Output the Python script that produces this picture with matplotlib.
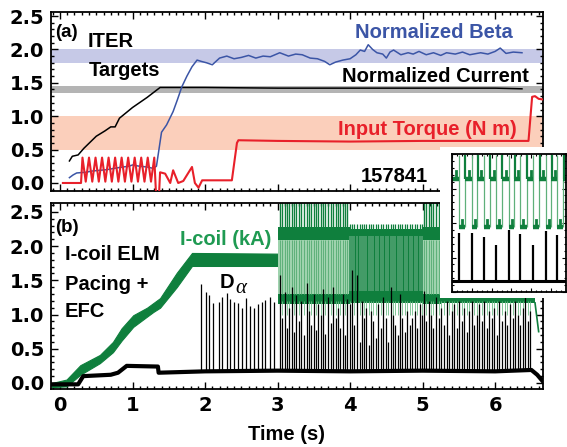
import numpy as np
import matplotlib
matplotlib.use('Agg')
import matplotlib.pyplot as plt
from matplotlib.patches import Rectangle
from matplotlib.ticker import MultipleLocator, FormatStrFormatter, NullFormatter

# ------------------------- data -------------------------
beta_t = [0.13, 0.18, 0.23, 0.35, 0.45, 0.55, 0.65, 0.75, 0.87, 0.95, 1.00, 1.10, 1.20, 1.28,
          1.33, 1.40, 1.47, 1.56, 1.62, 1.68, 1.75, 1.82, 1.89, 1.95, 2.02, 2.10, 2.20, 2.30,
          2.40, 2.50, 2.60, 2.70, 2.80, 2.90, 3.03, 3.15, 3.25, 3.34, 3.45, 3.55, 3.65, 3.72,
          3.80, 3.90, 4.00, 4.08, 4.14, 4.20, 4.25, 4.31, 4.37, 4.45, 4.50, 4.55, 4.60, 4.70,
          4.80, 4.87, 4.95, 5.05, 5.15, 5.25, 5.33, 5.45, 5.55, 5.65, 5.80, 5.90, 6.00, 6.07,
          6.15, 6.25, 6.37]
beta_v = [0.08, 0.12, 0.15, 0.16, 0.18, 0.19, 0.20, 0.22, 0.24, 0.25, 0.27, 0.25, 0.24, 0.22,
          0.25, 0.76, 0.87, 1.07, 1.25, 1.44, 1.60, 1.74, 1.84, 1.82, 1.80, 1.77, 1.87, 1.90,
          1.86, 1.88, 1.91, 1.87, 1.90, 1.89, 1.95, 1.90, 1.93, 1.92, 1.87, 1.86, 1.82, 1.77,
          1.81, 1.84, 1.86, 1.92, 1.99, 1.97, 2.07, 2.00, 1.95, 1.93, 1.87, 1.96, 1.99, 1.92,
          1.95, 1.93, 1.97, 1.92, 1.95, 1.91, 1.95, 1.93, 1.96, 1.92, 1.95, 1.93, 1.97, 2.02,
          1.94, 1.96, 1.95]

cur_t = [0.13, 0.17, 0.25, 0.33, 0.50, 0.62, 0.70, 0.76, 0.82, 1.00, 1.20, 1.38, 2.0, 3.0,
         4.0, 5.0, 6.0, 6.37]
cur_v = [0.33, 0.40, 0.42, 0.52, 0.70, 0.78, 0.84, 0.84, 0.97, 1.13, 1.28, 1.43, 1.43, 1.42,
         1.42, 1.42, 1.42, 1.41]

torque_t = [0.04, 0.29, 0.31, 0.355, 0.40, 0.445, 0.49, 0.535, 0.58, 0.625, 0.67, 0.715, 0.76,
            0.805, 0.85, 0.895, 0.94, 0.985, 1.03, 1.075, 1.12, 1.165, 1.21, 1.255, 1.30,
            1.33, 1.36, 1.38, 1.45, 1.52, 1.56, 1.63, 1.70, 1.82, 1.86, 1.91, 1.96, 2.37,
            2.44, 2.46, 3.0, 4.0, 5.0, 6.0, 6.46, 6.51, 6.55, 6.60, 6.66]
torque_v = [0.0, 0.0, 0.38, 0.02, 0.38, 0.02, 0.38, 0.02, 0.38, 0.02, 0.38, 0.02, 0.38,
            0.02, 0.38, 0.02, 0.38, 0.02, 0.38, 0.02, 0.38, 0.02, 0.38, 0.02, 0.38,
            -0.30, -0.30, 0.16, 0.14, 0.0, 0.19, 0.0, 0.03, 0.24, 0.0, -0.07, 0.04, 0.04,
            0.60, 0.64, 0.63, 0.62, 0.63, 0.63, 0.63, 1.29, 1.30, 1.26, 1.25]

bands = [(1.8, 2.0), (1.35, 1.45), (0.5, 1.0)]

icoil_t = [-0.11, 0.09, 0.28, 0.55, 0.73, 0.85, 1.01, 1.20, 1.29, 1.38, 1.61, 1.82, 3.00]
icoil_lo = [-0.06, -0.05, 0.12, 0.29, 0.45, 0.62, 0.82, 0.97, 1.04, 1.10, 1.40, 1.71, 1.71]
icoil_hi = [0.0, 0.05, 0.26, 0.41, 0.60, 0.80, 0.99, 1.10, 1.17, 1.24, 1.61, 1.90, 1.89]

da_t = [-0.12, 0.25, 0.32, 0.70, 0.80, 0.92, 1.35, 1.36, 2.0, 3.0, 4.0, 5.0, 6.0, 6.50,
        6.58, 6.66]
da_v = [-0.02, -0.02, 0.10, 0.12, 0.15, 0.25, 0.24, 0.15, 0.17, 0.18, 0.17, 0.18, 0.17, 0.19,
        0.12, 0.02]

elm_t = [1.95, 2.01, 2.06, 2.11, 2.19, 2.24, 2.30, 2.35, 2.40, 2.46, 2.51, 2.56, 2.62, 2.67,
         2.73, 2.78, 2.83, 2.89, 2.95,
         3.03, 3.06, 3.10, 3.13, 3.16, 3.20, 3.23, 3.26, 3.30, 3.33, 3.36, 3.40, 3.43, 3.46,
         3.50, 3.53, 3.56, 3.60, 3.63, 3.66, 3.70, 3.73, 3.76, 3.80, 3.83, 3.86, 3.90, 3.93,
         3.96, 4.00,
         4.03, 4.06, 4.09, 4.13, 4.16, 4.19, 4.22, 4.26, 4.29, 4.32, 4.36, 4.39, 4.42, 4.46,
         4.49, 4.52, 4.56, 4.59, 4.62, 4.66, 4.69, 4.72, 4.76, 4.79, 4.82, 4.86, 4.89, 4.92,
         4.96, 4.99,
         5.02, 5.05, 5.09, 5.12, 5.15, 5.19, 5.22, 5.26, 5.29, 5.33, 5.36, 5.40, 5.43, 5.47,
         5.50, 5.54, 5.57, 5.61, 5.64, 5.68, 5.71, 5.75, 5.78, 5.82, 5.85, 5.89, 5.92, 5.96,
         5.99, 6.03, 6.06, 6.10, 6.13, 6.17, 6.20, 6.24, 6.27, 6.31, 6.34, 6.38, 6.41, 6.45,
         6.48]
elm_h = [1.45, 1.33, 1.28, 1.17, 1.19, 1.25, 1.31, 1.22, 1.19, 1.17, 1.10, 1.24, 1.13, 1.10,
         1.16, 1.18, 1.21, 1.25, 1.18,
         1.58, 0.95, 1.33, 0.80, 1.10, 1.40, 0.75, 1.28, 0.90, 1.20, 0.70, 1.46, 1.05, 0.85,
         1.30, 0.78, 1.15, 1.00, 1.38, 0.72, 1.25, 0.88, 1.40, 0.95, 1.10, 0.80, 1.30, 0.70,
         1.22, 1.15,
         1.65, 0.85, 1.58, 0.60, 1.20, 0.95, 1.10, 0.55, 1.05, 0.90, 0.65, 1.15, 0.80, 1.25,
         0.95, 0.60, 1.40, 1.00, 0.85, 0.70, 1.30, 0.95, 0.75, 1.05, 0.85, 0.95, 1.05, 0.80,
         1.15, 1.00,
         1.35, 0.90, 1.20, 1.00, 0.80, 1.25, 0.95, 1.10, 0.85, 1.20, 0.70, 1.05, 1.15, 0.80,
         1.20, 0.90, 1.10, 0.75, 1.05, 1.20, 0.85, 1.00, 1.15, 0.90, 1.20, 0.80, 1.05, 0.95,
         1.10, 0.70, 1.20, 0.90, 1.05, 0.85, 1.15, 0.95, 1.20, 1.00, 0.85, 1.10, 1.25, 0.90,
         1.05]

phases = [(3.00, 4.00, 'wide'), (4.00, 5.00, 'dense'), (5.00, 5.25, 'wide'), (5.25, 6.55, 'dense')]

ins_fall = [7.3, 19.7, 32.0, 44.7, 57.3, 69.0, 82.0, 94.7, 106.3]
ins_rise = [0.0, 13.0, 25.3, 38.0, 50.3, 63.0, 75.3, 88.0, 100.3, 112.0]
ins_elm = [0.43, 0.43, 0.40, 0.34, 0.45, 0.42, 0.34, 0.44, 0.41]
ins_hi, ins_lo, ins_base = 0.82, 0.47, 0.08

xticks = [0, 1, 2, 3, 4, 5, 6]
yticks = [0.0, 0.5, 1.0, 1.5, 2.0, 2.5]

plt.rcParams['font.family'] = ['Liberation Sans', 'DejaVu Sans']
plt.rcParams['font.weight'] = 'bold'

W, H = 567, 447
fig = plt.figure(figsize=(W / 100, H / 100), dpi=100)

def fx(x):
    return x / W

def fy(y):
    return 1 - y / H

BLUE = '#3b55a6'
RED = '#e8202a'
GD = '#0f7f3d'
GT = '#1f9a52'
GL = '#9fd3ae'
GM = '#5fb07a'

XL = (-0.124, 6.66)

ax_a = fig.add_axes([fx(51), fy(191), fx(543) - fx(51), fy(12) - fy(191)])
ax_b = fig.add_axes([fx(51), fy(389), fx(543) - fx(51), fy(203) - fy(389)])

def style(ax, ylim, xlabels):
    ax.set_xlim(*XL)
    ax.set_ylim(*ylim)
    ax.set_xticks(xticks)
    ax.set_yticks(yticks)
    ax.xaxis.set_minor_locator(MultipleLocator(0.1))
    ax.yaxis.set_minor_locator(MultipleLocator(0.1))
    ax.yaxis.set_major_formatter(FormatStrFormatter('%.1f'))
    if not xlabels:
        ax.xaxis.set_major_formatter(NullFormatter())
    ax.tick_params(which='both', direction='in', top=True, right=True, width=1.0)
    ax.tick_params(which='major', length=5, pad=5)
    ax.tick_params(which='minor', length=2.5)
    for s in ax.spines.values():
        s.set_linewidth(1.3)
    for lbl in ax.get_xticklabels() + ax.get_yticklabels():
        lbl.set_fontfamily('DejaVu Sans')
        lbl.set_fontweight('bold')
        lbl.set_fontsize(14)

# ---------------- panel (a) ----------------
style(ax_a, (-0.12, 2.56), False)
band_colors = ['#c6c9e7', '#b4b4b4', '#fbcfbb']
for (lo, hi), c in zip(bands, band_colors):
    ax_a.axhspan(lo, hi, color=c, lw=0, zorder=0)
ax_a.plot(cur_t, cur_v, color='black', lw=1.1, zorder=3)
ax_a.plot(beta_t, beta_v, color=BLUE, lw=1.1, zorder=3)
ax_a.plot(torque_t, torque_v, color=RED, lw=1.5, zorder=4)

# ---------------- panel (b) ----------------
style(ax_b, (-0.088, 2.63), True)
ax_b.fill_between(icoil_t, icoil_lo, icoil_hi, color=GD, lw=0.8, edgecolor=GD, zorder=2)

for (t0, t1, kind) in phases:
    pt = [t for t in elm_t if t0 <= t < t1]
    if kind == 'wide':
        ax_b.fill_between([t0, t1], [1.15, 1.15], [2.28, 2.28], color=GD, lw=0, zorder=2)
        ax_b.fill_between([t0 + 0.01, t1 - 0.01], [1.30, 1.30], [2.09, 2.09], color=GL, lw=0, zorder=2)
        ax_b.vlines(pt, 1.30, 2.09, color=GM, lw=0.7, zorder=2)
        ax_b.vlines(pt, 2.2, 2.75, color=GD, lw=1.0, zorder=2)
        ax_b.vlines(pt, 1.0, 1.2, color='#6fbb88', lw=0.6, zorder=2)
    else:
        ax_b.fill_between([t0, t1], [1.17, 1.17], [2.25, 2.25], color=GD, lw=0, zorder=2)
        ax_b.vlines(pt, 1.35, 2.15, color='#e6f3ea', lw=0.35, zorder=2)
        ax_b.vlines(pt, 2.2, 2.32, color=GD, lw=0.9, zorder=2)
        ax_b.vlines(pt, 1.0, 1.2, color='#6fbb88', lw=0.6, zorder=2)
ax_b.plot([6.55, 6.6], [1.17, 0.75], color=GD, lw=1.2, zorder=2)

ax_b.plot(da_t, da_v, color='black', lw=3.0, zorder=4)
base_at = np.interp(elm_t, da_t, da_v)
ax_b.vlines(elm_t, base_at, elm_h, color='black', lw=0.9, zorder=4)

# ---------------- white cover + inset ----------------
fig.add_artist(Rectangle((fx(440), fy(298)), 1 - fx(440), fy(147) - fy(298),
                         transform=fig.transFigure, facecolor='white', edgecolor='none', zorder=3))
ax_i = fig.add_axes([fx(452), fy(292), fx(566) - fx(452), fy(154) - fy(292)], zorder=4)
ax_i.set_xlim(0, 115)
ax_i.set_ylim(0, 1)
ax_i.xaxis.set_major_locator(MultipleLocator(20))
ax_i.xaxis.set_minor_locator(MultipleLocator(5))
ax_i.yaxis.set_major_locator(MultipleLocator(0.25))
ax_i.yaxis.set_minor_locator(MultipleLocator(0.05))
ax_i.tick_params(which='both', direction='in', top=True, right=True, labelbottom=False,
                 labelleft=False, width=0.8)
ax_i.tick_params(which='major', length=3)
ax_i.tick_params(which='minor', length=1.5)
for s in ax_i.spines.values():
    s.set_linewidth(1.3)
# transitions (thin, light) then level segments (thick, dark)
ax_i.vlines(ins_fall, ins_lo, 0.99, color=GM, lw=0.9)
ax_i.vlines(ins_rise[1:], ins_lo, ins_hi, color=GM, lw=0.9)
ends = ins_fall + [115.0]
for r, f in zip(ins_rise, ends):
    ax_i.plot([r, f], [ins_hi, ins_hi], color=GD, lw=3.2, solid_capstyle='butt')
    ax_i.plot([r + 4.0, r + 4.0], [ins_hi, ins_hi + 0.06], color=GD, lw=2.0)
for f, r in zip(ins_fall, ins_rise[1:]):
    ax_i.plot([f, r], [ins_lo, ins_lo], color=GD, lw=3.2, solid_capstyle='butt')
    ax_i.plot([f + 3.0, f + 3.0], [ins_lo, ins_lo + 0.05], color=GD, lw=2.0)
ax_i.vlines([r + 0.6 for r in ins_rise[1:]], ins_hi, 0.99, color=GD, lw=1.6)
ax_i.plot([0, 115], [ins_base, ins_base], color='black', lw=2.2)
ax_i.vlines(ins_fall, ins_base, ins_elm, color='black', lw=1.6)

# ------------------------- texts -------------------------
FS = 14.5
fig.text(fx(55), fy(37), '(a)', fontsize=13.5, ha='left', va='baseline')
fig.text(fx(88), fy(47), 'ITER', fontsize=FS, ha='left', va='baseline')
fig.text(fx(89), fy(76), 'Targets', fontsize=FS, ha='left', va='baseline')
fig.text(fx(513), fy(38), 'Normalized Beta', fontsize=FS, color=BLUE, ha='right', va='baseline')
fig.text(fx(529), fy(82), 'Normalized Current', fontsize=FS, color='black', ha='right', va='baseline')
fig.text(fx(517), fy(135), 'Input Torque (N m)', fontsize=FS, color=RED, ha='right', va='baseline')
fig.text(fx(428), fy(182), '157841', fontsize=FS, ha='right', va='baseline')

fig.text(fx(55), fy(232), '(b)', fontsize=13.5, ha='left', va='baseline')
fig.text(fx(65), fy(260), 'I-coil ELM', fontsize=FS, ha='left', va='baseline')
fig.text(fx(65), fy(290), 'Pacing +', fontsize=FS, ha='left', va='baseline')
fig.text(fx(65), fy(317), 'EFC', fontsize=FS, ha='left', va='baseline')
fig.text(fx(180), fy(245), 'I-coil (kA)', fontsize=FS, color=GT, ha='left', va='baseline')
fig.text(fx(220), fy(288), 'D', fontsize=FS, ha='left', va='baseline')
fig.text(fx(235), fy(293), 'α', fontsize=15, family=['Liberation Serif', 'DejaVu Serif'],
         style='italic', weight='normal', ha='left', va='baseline')
fig.text(fx(248), fy(440), 'Time (s)', fontsize=FS, ha='left', va='baseline')

fig.savefig('out.png', dpi=100)
